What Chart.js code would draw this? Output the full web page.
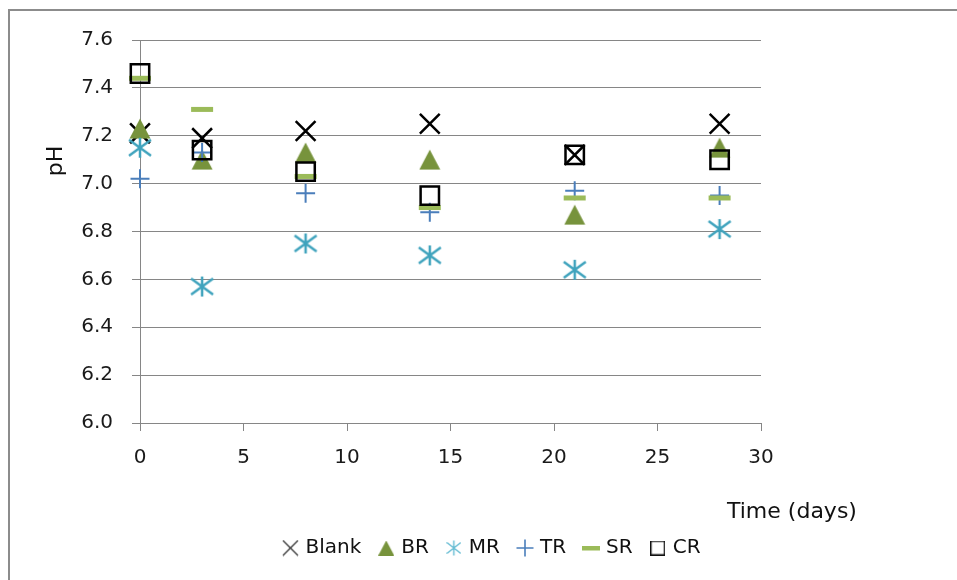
<!DOCTYPE html>
<html>
<head>
<meta charset="utf-8">
<script src="https://cdn.jsdelivr.net/npm/chart.js@4/dist/chart.umd.min.js"></script>
<style>
  html, body { margin: 0; padding: 0; background: #ffffff; overflow: hidden; }
  #frame { position: absolute; left: 8px; top: 9px; width: 2000px; height: 1000px;
           border-left: 2px solid #8c8c8c; border-top: 2px solid #8c8c8c; }
  #wrap { position: absolute; left: 0; top: 0; width: 957px; height: 580px; }
</style>
</head>
<body>
<div id="frame"></div>
<div id="wrap"><canvas id="c" width="957" height="580"></canvas></div>
<script>
// ---- data ----
const days  = [0, 3, 8, 14, 21, 28];
const blank = [7.21, 7.19, 7.22, 7.25, 7.12, 7.25];
const br    = [7.23, 7.10, 7.13, 7.10, 6.87, 7.15];
const mr    = [7.15, 6.57, 6.75, 6.70, 6.64, 6.81];
const tr    = [7.02, 7.13, 6.96, 6.88, 6.97, 6.95];
const sr    = [7.44, 7.31, 7.03, 6.90, 6.94, 6.94];
const cr    = [7.46, 7.14, 7.05, 6.95, 7.12, 7.10];
const seriesNames = ['Blank', 'BR', 'MR', 'TR', 'SR', 'CR'];
const xTitle = 'Time (days)';
const yTitle = 'pH';

const FONT = '"DejaVu Sans", "Liberation Sans", sans-serif';
Chart.defaults.font.family = FONT;
Chart.defaults.color = '#1a1a1a';

function makeImg(w, h, draw) {
  const cv = document.createElement('canvas');
  cv.width = w; cv.height = h;
  const g = cv.getContext('2d');
  draw(g, w, h);
  return cv;
}
// plot markers
const triImg = makeImg(22, 21, (g) => {
  g.fillStyle = '#77933c';
  g.beginPath(); g.moveTo(11, 0.5); g.lineTo(21.5, 20.5); g.lineTo(0.5, 20.5); g.closePath(); g.fill();
});
const astImg = makeImg(26, 24, (g) => {
  g.strokeStyle = '#3fa3bd'; g.lineWidth = 2.5;
  g.beginPath();
  g.moveTo(13, 2); g.lineTo(13, 22);
  g.moveTo(2, 4); g.lineTo(24, 20);
  g.moveTo(2, 20); g.lineTo(24, 4);
  g.stroke();
});
// legend markers
const legImgs = [
  makeImg(17, 17, (g) => { g.strokeStyle = '#3a3a3a'; g.lineWidth = 1.4; g.beginPath();
    g.moveTo(1, 1); g.lineTo(16, 16); g.moveTo(16, 1); g.lineTo(1, 16); g.stroke(); }),
  makeImg(16, 15, (g) => { g.fillStyle = '#77933c'; g.beginPath();
    g.moveTo(8, 0); g.lineTo(16, 15); g.lineTo(0, 15); g.closePath(); g.fill(); }),
  makeImg(15, 16, (g) => { g.strokeStyle = '#63bbd2'; g.lineWidth = 1.4; g.beginPath();
    g.moveTo(7.5, 0.5); g.lineTo(7.5, 15.5); g.moveTo(0.5, 2.5); g.lineTo(14.5, 13.5);
    g.moveTo(0.5, 13.5); g.lineTo(14.5, 2.5); g.stroke(); }),
  makeImg(18, 18, (g) => { g.strokeStyle = '#4a7ebb'; g.lineWidth = 1.6; g.beginPath();
    g.moveTo(9, 0.5); g.lineTo(9, 17.5); g.moveTo(0.5, 9); g.lineTo(17.5, 9); g.stroke(); }),
  makeImg(18, 6, (g) => { g.fillStyle = '#9bbb59'; g.fillRect(0, 1, 18, 4.5); }),
  makeImg(15, 15, (g) => { g.strokeStyle = '#111'; g.lineWidth = 1.4; g.strokeRect(0.7, 0.7, 13.6, 13.6); })
];

function pts(vals) { return days.map((d, i) => ({ x: d, y: vals[i] })); }

const titlesPlugin = {
  id: 'titles',
  afterDraw(chart) {
    const ctx = chart.ctx;
    const a = chart.chartArea;
    ctx.save();
    ctx.fillStyle = '#111';
    ctx.font = '22px ' + FONT;
    ctx.textAlign = 'left';
    ctx.textBaseline = 'alphabetic';
    ctx.fillText(xTitle, a.right - 34, a.bottom + 95);
    ctx.translate(a.left - 78, a.top + 121);
    ctx.rotate(-Math.PI / 2);
    ctx.textAlign = 'center';
    ctx.fillText(yTitle, 0, 0);
    ctx.restore();
  }
};

new Chart(document.getElementById('c'), {
  type: 'scatter',
  data: {
    datasets: [
      { label: seriesNames[0], data: pts(blank), order: 5, clip: false, pointStyle: 'crossRot', pointRadius: 14, pointHoverRadius: 14,
        borderColor: '#000', backgroundColor: '#000', borderWidth: 2.5, pointHoverBorderWidth: 2.5 },
      { label: seriesNames[1], data: pts(br), order: 4, clip: false, pointStyle: triImg, pointRadius: 11, pointHoverRadius: 11,
        borderColor: '#77933c', backgroundColor: '#77933c' },
      { label: seriesNames[2], data: pts(mr), order: 3, clip: false, pointStyle: astImg, pointRadius: 11, pointHoverRadius: 11,
        borderColor: '#3fa3bd', backgroundColor: '#3fa3bd' },
      { label: seriesNames[3], data: pts(tr), order: 2, clip: false, pointStyle: 'cross', pointRadius: 9.5, pointHoverRadius: 9.5,
        borderColor: '#4a7ebb', backgroundColor: '#4a7ebb', borderWidth: 2, pointHoverBorderWidth: 2 },
      { label: seriesNames[4], data: pts(sr), order: 1, clip: false, pointStyle: 'line', pointRadius: 11, pointHoverRadius: 11,
        borderColor: '#9bbb59', backgroundColor: '#9bbb59', borderWidth: 5, pointHoverBorderWidth: 5 },
      { label: seriesNames[5], data: pts(cr), order: 0, clip: false, pointStyle: 'rect', pointRadius: 13, pointHoverRadius: 13,
        borderColor: '#000', backgroundColor: 'rgba(0,0,0,0)', borderWidth: 2.5, pointHoverBorderWidth: 2.5 }
    ]
  },
  options: {
    responsive: false,
    animation: false,
    devicePixelRatio: 1,
    layout: { padding: { left: 29, right: 0, top: 40, bottom: 12 } },
    scales: {
      x: {
        type: 'linear', min: 0, max: 30,
        ticks: { stepSize: 5, font: { size: 20 }, color: '#1a1a1a', padding: 15 },
        grid: { drawOnChartArea: false, drawTicks: true, tickLength: 8, color: '#868686', lineWidth: 1 },
        border: { color: '#868686', width: 1 },
        afterFit: (s) => { s.height = 95; }
      },
      y: {
        type: 'linear', min: 6.0, max: 7.6,
        ticks: { stepSize: 0.2, font: { size: 20 }, color: '#1a1a1a', padding: 19,
                 callback: (v) => Number(v).toFixed(1) },
        grid: { color: '#868686', lineWidth: 1, tickLength: 8 },
        border: { color: '#868686', width: 1 },
        afterFit: (s) => { s.width = 111; }
      },
      y2: {
        type: 'linear', position: 'right', display: true,
        ticks: { display: false }, grid: { display: false }, border: { display: false },
        afterFit: (s) => { s.width = 196; }
      }
    },
    plugins: {
      tooltip: { enabled: false },
      legend: {
        position: 'bottom',
        labels: {
          usePointStyle: true,
          boxWidth: 10, boxHeight: 16,
          padding: 20,
          color: '#111',
          font: { size: 20 },
          sort: (a, b) => a.datasetIndex - b.datasetIndex,
          generateLabels: (chart) => {
            const items = Chart.defaults.plugins.legend.labels.generateLabels(chart);
            items.forEach((it) => { it.pointStyle = legImgs[it.datasetIndex]; it.fontColor = '#111'; });
            return items;
          }
        }
      }
    }
  },
  plugins: [titlesPlugin]
});
</script>
</body>
</html>
